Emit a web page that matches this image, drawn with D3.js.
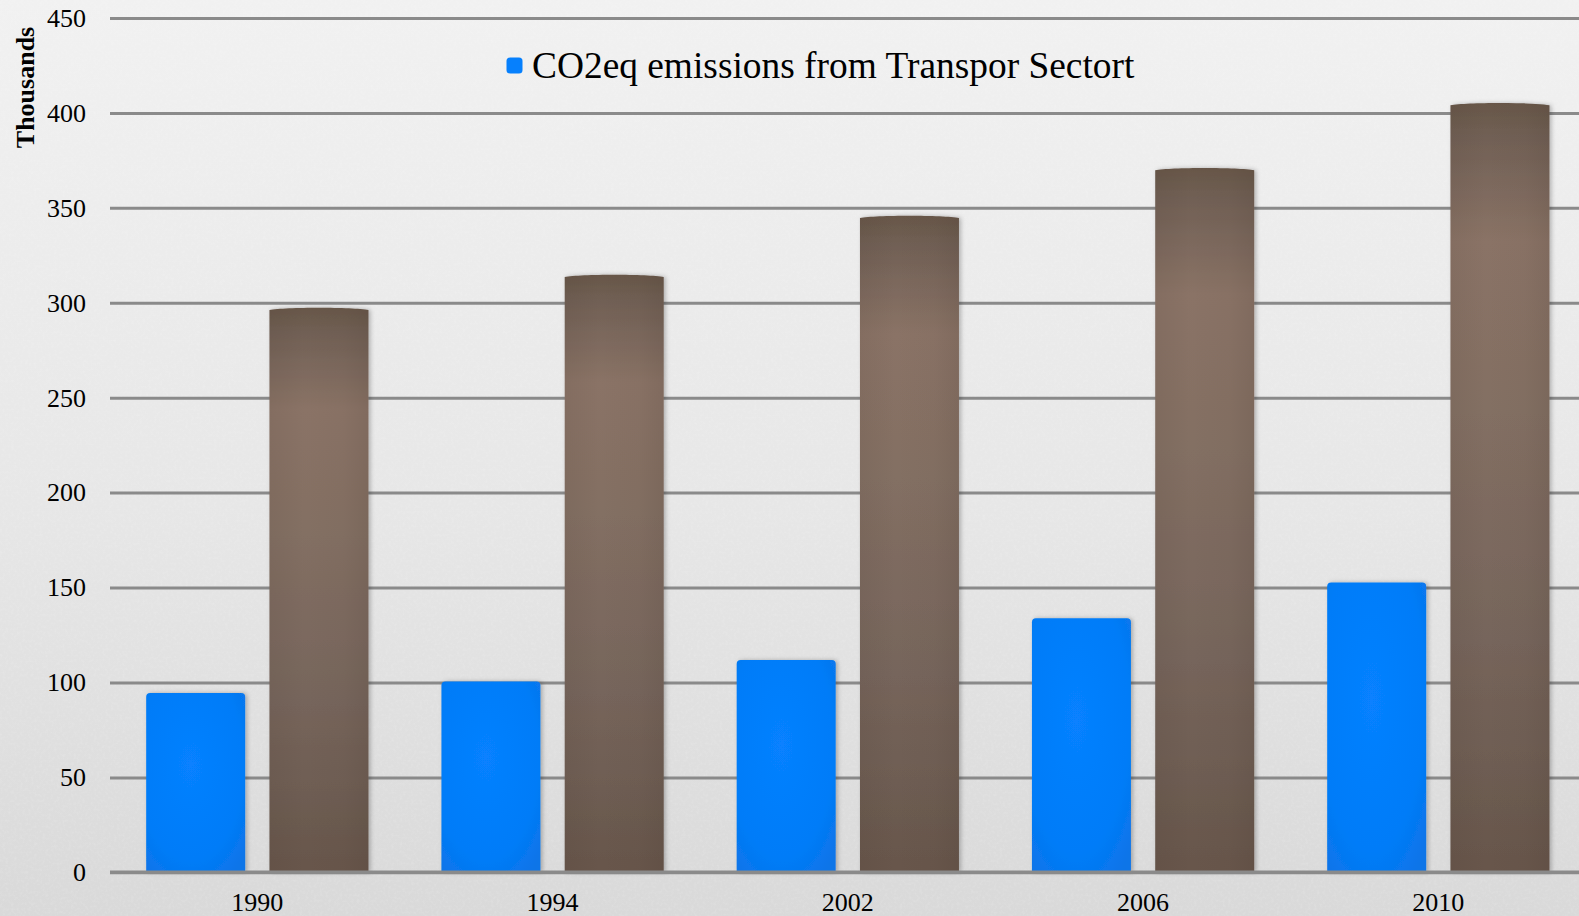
<!DOCTYPE html>
<html>
<head>
<meta charset="utf-8">
<script src="https://cdn.jsdelivr.net/npm/d3@7"></script>
<style>
  html, body { margin: 0; padding: 0; overflow: hidden; background: #e8e8e8; }
  svg { display: block; }
  text { font-family: "Liberation Serif", "Times New Roman", serif; fill: #000; }
</style>
</head>
<body>
<svg id="chart" width="1579" height="916"></svg>
<script>
// ---- data ----
const categories = ["1990", "1994", "2002", "2006", "2010"];
const seriesNames = ["CO2eq emissions from Transpor Sectort", "Total"];
const co2Values = [94.5, 100.5, 111.8, 133.8, 152.7];
const totalValues = [297, 314.3, 345.5, 370.6, 404.8];
const yTicks = [0, 50, 100, 150, 200, 250, 300, 350, 400, 450];
const yAxisTitle = "Thousands";

// ---- layout ----
const W = 1579, H = 916;
const plotLeft = 109.7, step = 295.25;
const yBottom = 872.3, yTop = 18;

const svg = d3.select("#chart");
const defs = svg.append("defs");

// background gradient + texture
const bg = defs.append("linearGradient").attr("id", "bgGrad")
  .attr("x1", 0).attr("y1", 0).attr("x2", 0).attr("y2", 1);
bg.append("stop").attr("offset", "0%").attr("stop-color", "#f1f1f1");
bg.append("stop").attr("offset", "55%").attr("stop-color", "#e7e7e7");
bg.append("stop").attr("offset", "100%").attr("stop-color", "#d9d9d9");

const noise = defs.append("filter").attr("id", "noise")
  .attr("x", 0).attr("y", 0).attr("width", "100%").attr("height", "100%");
noise.append("feTurbulence").attr("type", "fractalNoise")
  .attr("baseFrequency", "0.35").attr("numOctaves", 2).attr("seed", 3).attr("result", "t");
noise.append("feColorMatrix").attr("in", "t").attr("type", "matrix")
  .attr("values", "0 0 0 0 1  0 0 0 0 1  0 0 0 0 1  0 0 0 0.9 -0.4").attr("result", "n");
noise.append("feComposite").attr("in", "n").attr("in2", "SourceGraphic").attr("operator", "in");

svg.append("rect").attr("width", W).attr("height", H).attr("fill", "url(#bgGrad)");
svg.append("rect").attr("width", W).attr("height", H).attr("fill", "#000")
  .attr("filter", "url(#noise)").attr("opacity", 0.3);

// bar gradients
const blueGrad = defs.append("radialGradient").attr("id", "blueGrad")
  .attr("cx", "0.45").attr("cy", "0.4").attr("r", "0.75");
blueGrad.append("stop").attr("offset", "0%").attr("stop-color", "#0781ff");
blueGrad.append("stop").attr("offset", "70%").attr("stop-color", "#037cf8");
blueGrad.append("stop").attr("offset", "100%").attr("stop-color", "#0a74e8");

const brownGrad = defs.append("linearGradient").attr("id", "brownGrad")
  .attr("x1", 0).attr("y1", 0).attr("x2", 0).attr("y2", 1);
[["0%", "#685749"], ["5%", "#726156"], ["18%", "#8a7366"], ["40%", "#836f63"], ["70%", "#76655b"], ["100%", "#67564b"]]
  .forEach(([o, c]) => brownGrad.append("stop").attr("offset", o).attr("stop-color", c));
const brownEdge = defs.append("linearGradient").attr("id", "brownEdge")
  .attr("x1", 0).attr("y1", 0).attr("x2", 1).attr("y2", 0);
[["0%", 0.08], ["35%", 0], ["75%", 0.03], ["100%", 0.12]]
  .forEach(([o, a]) => brownEdge.append("stop").attr("offset", o).attr("stop-color", "#3a2c24").attr("stop-opacity", a));

const shadow = defs.append("filter").attr("id", "shadow")
  .attr("x", "-10%").attr("y", "-5%").attr("width", "130%").attr("height", "110%");
shadow.append("feDropShadow").attr("dx", 2).attr("dy", 0).attr("stdDeviation", 2)
  .attr("flood-color", "#000").attr("flood-opacity", 0.25);

// ---- scales ----
const x = d3.scaleBand().domain(categories).range([plotLeft, plotLeft + step * categories.length])
  .paddingInner(0).paddingOuter(0);
const xSub = d3.scaleBand().domain(seriesNames).range([0, x.bandwidth()])
  .paddingInner(0.197).paddingOuter(0.296);
const y = d3.scaleLinear().domain([0, 450]).range([yBottom, yTop]);

// ---- y axis with gridlines ----
const yAxis = svg.append("g").attr("transform", "translate(110,0)")
  .call(d3.axisLeft(y).tickValues(yTicks).tickSize(-(W - 110)).tickPadding(24));
yAxis.select(".domain").remove();
yAxis.selectAll(".tick line").attr("stroke", "#8a8a8a").attr("stroke-width", 3);
yAxis.selectAll(".tick text").attr("font-size", 26)
  .attr("font-family", "'Liberation Serif', 'Times New Roman', serif").attr("fill", "#000");

// axis title
svg.append("text").attr("transform", "translate(34,87.5) rotate(-90)")
  .attr("text-anchor", "middle").attr("font-size", 26).attr("font-weight", "bold")
  .text(yAxisTitle);

// ---- bars ----
const rows = categories.map((c, i) => ({ cat: c, co2: co2Values[i], total: totalValues[i] }));

const groups = svg.append("g").selectAll("g").data(rows).join("g")
  .attr("transform", d => `translate(${x(d.cat)},0)`);

// blue bars (rounded top corners)
groups.append("path")
  .attr("filter", "url(#shadow)")
  .attr("fill", "url(#blueGrad)")
  .attr("d", d => {
    const x0 = xSub(seriesNames[0]), w = xSub.bandwidth();
    const yt = y(d.co2), yb = y(0), r = 4;
    return `M${x0},${yb} L${x0},${yt + r} Q${x0},${yt} ${x0 + r},${yt} L${x0 + w - r},${yt} Q${x0 + w},${yt} ${x0 + w},${yt + r} L${x0 + w},${yb} Z`;
  });

// brown bars (slightly domed top)
const brownPath = d => {
  const x0 = xSub(seriesNames[1]), w = xSub.bandwidth();
  const yt = y(d.total), yb = y(0);
  return `M${x0},${yb} L${x0},${yt + 1.5} C${x0 + w * 0.15},${yt - 1.5} ${x0 + w * 0.85},${yt - 1.5} ${x0 + w},${yt + 1.5} L${x0 + w},${yb} Z`;
};
groups.append("path").attr("filter", "url(#shadow)").attr("fill", "url(#brownGrad)").attr("d", brownPath);
groups.append("path").attr("fill", "url(#brownEdge)").attr("d", brownPath);

// zero baseline on top
svg.append("line").attr("x1", 110).attr("x2", W).attr("y1", y(0)).attr("y2", y(0))
  .attr("stroke", "#8a8a8a").attr("stroke-width", 3.5);

// ---- x axis ----
const xAxis = svg.append("g").attr("transform", `translate(0,${y(0)})`)
  .call(d3.axisBottom(x).tickSize(0).tickPadding(20));
xAxis.select(".domain").remove();
xAxis.selectAll(".tick text").attr("font-size", 26)
  .attr("font-family", "'Liberation Serif', 'Times New Roman', serif").attr("fill", "#000");

// ---- legend ----
const legend = svg.append("g");
legend.append("rect").attr("x", 506.5).attr("y", 57.5).attr("width", 16).attr("height", 16)
  .attr("rx", 3.5).attr("fill", "#0680fd");
legend.append("text").attr("x", 532).attr("y", 77.5).attr("font-size", 37.4).text(seriesNames[0]);
</script>
</body>
</html>
